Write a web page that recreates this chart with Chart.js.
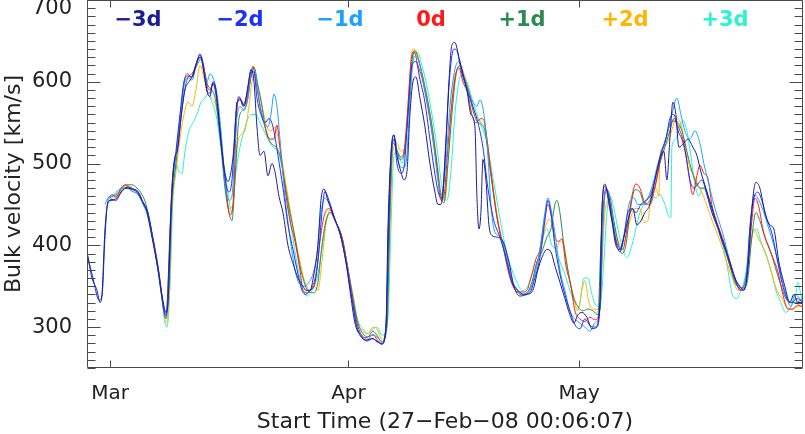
<!DOCTYPE html>
<html><head><meta charset="utf-8">
<script src="https://cdn.jsdelivr.net/npm/chart.js@4.4.0/dist/chart.umd.min.js"></script>
<style>html,body{margin:0;padding:0;background:#fff;overflow:hidden}#wrap{width:805px;height:434px;position:relative}</style>
</head><body><div id="wrap"><canvas id="c" width="805" height="434"></canvas></div>
<script>
// ---- data (x = days since 27-Feb-08 00:06:07, y = km/s) ----
const seriesLabels = ['\u22123d','\u22122d','\u22121d','0d','+1d','+2d','+3d'];
const monthTickDays = [2.996, 33.996, 63.996];
const monthLabels = ['Mar','Apr','May'];
const yTickValues = [300,400,500,600,700];
const xTitle = 'Start Time (27\u2212Feb\u221208 00:06:07)';
const yTitle = 'Bulk velocity [km/s]';

const sM3 = [[0,392],[0.65,360],[1.3,345],[1.69,330],[1.95,340],[2.34,420],[2.73,452],[3.25,456],[3.77,455],[4.42,465],[5.07,470],[5.72,469],[6.5,465],[7.15,455],[7.67,445],[8.45,410],[9.23,370],[9.88,332],[10.27,318],[10.53,330],[10.92,440],[11.31,500],[11.83,520],[12.22,555],[12.74,590],[13.26,600],[13.78,608],[14.3,625],[14.82,630],[15.21,610],[15.6,588],[15.99,582],[16.38,600],[16.77,590],[17.29,540],[17.81,495],[18.33,478],[18.72,490],[19.11,520],[19.5,575],[20.02,578],[20.41,570],[20.93,595],[21.32,615],[21.71,600],[22.1,545],[22.49,510],[23.01,515],[23.53,485],[24.05,500],[24.44,490],[24.96,460],[25.48,440],[26.13,400],[26.78,378],[27.43,360],[28.08,350],[28.47,345],[28.99,345],[29.51,365],[30.03,400],[30.42,455],[30.81,469],[31.33,455],[32.11,435],[32.89,415],[33.67,380],[34.19,345],[34.84,305],[35.49,290],[36.27,284],[37.05,286],[37.7,283],[38.35,279],[38.87,300],[39.13,420],[39.52,510],[39.91,535],[40.3,510],[40.82,490],[41.21,480],[41.6,490],[41.99,560],[42.38,600],[42.77,606],[43.29,580],[43.94,545],[44.59,500],[45.24,465],[45.63,450],[46.02,450],[46.54,500],[47.06,600],[47.45,645],[47.84,648],[48.36,630],[48.88,610],[49.4,590],[49.92,560],[50.44,545],[50.7,460],[50.96,420],[51.22,440],[51.48,505],[51.87,480],[52.26,425],[52.65,412],[53.3,410],[54.08,405],[54.86,380],[55.51,350],[56.29,338],[57.2,340],[57.98,345],[58.63,370],[59.15,385],[59.8,395],[60.32,392],[60.84,375],[61.49,355],[62.14,335],[62.79,315],[63.31,305],[63.83,315],[64.35,318],[65.0,312],[65.65,298],[66.3,300],[66.69,330],[66.95,440],[67.34,475],[67.73,460],[68.25,430],[68.77,400],[69.29,395],[69.81,410],[70.46,435],[70.98,445],[71.5,425],[72.02,430],[72.54,440],[73.19,450],[73.84,480],[74.49,505],[75.01,515],[75.4,480],[75.79,530],[76.18,575],[76.57,560],[76.96,520],[77.61,525],[78.13,530],[78.78,520],[79.3,510],[79.82,490],[80.47,470],[81.12,450],[81.77,430],[82.42,412],[82.94,398],[83.59,380],[84.24,360],[84.89,350],[85.41,345],[85.93,370],[86.45,445],[86.97,477],[87.49,470],[88.14,440],[88.79,425],[89.31,420],[89.96,380],[90.74,350],[91.39,330],[91.91,340],[92.43,330],[93.08,330]];

const sM2 = [[0,390],[0.78,360],[1.56,333],[1.95,338],[2.34,410],[2.73,454],[3.25,455],[3.9,458],[4.55,466],[5.2,471],[5.85,469],[6.63,466],[7.28,452],[7.93,440],[8.58,408],[9.36,365],[10.01,320],[10.27,314],[10.66,380],[11.05,470],[11.57,515],[12.09,560],[12.61,600],[13.13,607],[13.65,606],[14.17,620],[14.69,634],[15.21,615],[15.6,590],[15.99,586],[16.38,598],[16.9,575],[17.55,515],[18.07,475],[18.46,465],[18.85,480],[19.37,560],[19.76,582],[20.28,572],[20.8,585],[21.32,612],[21.71,612],[22.1,580],[22.62,560],[23.14,550],[23.66,555],[24.18,545],[24.83,510],[25.48,470],[26.13,425],[26.78,395],[27.43,365],[27.95,345],[28.47,340],[28.99,345],[29.51,350],[30.03,380],[30.55,440],[30.94,466],[31.46,455],[32.24,432],[33.02,410],[33.8,372],[34.45,335],[35.1,300],[35.75,288],[36.4,283],[37.18,286],[37.7,282],[38.35,280],[38.87,298],[39.26,430],[39.52,510],[39.91,535],[40.3,500],[40.82,488],[41.21,495],[41.73,560],[42.25,620],[42.77,625],[43.29,603],[43.94,575],[44.59,530],[45.24,487],[45.76,462],[46.15,458],[46.67,530],[47.19,610],[47.71,640],[48.1,638],[48.62,615],[49.14,598],[49.79,580],[50.31,566],[50.83,550],[51.48,520],[52.13,470],[52.91,430],[53.69,410],[54.47,385],[55.25,355],[56.03,345],[56.81,340],[57.59,342],[58.24,360],[58.89,385],[59.54,430],[59.93,455],[60.32,440],[60.84,400],[61.49,365],[62.14,340],[62.79,320],[63.44,303],[64.09,298],[64.74,310],[65.39,302],[66.04,300],[66.69,325],[66.95,440],[67.34,472],[67.73,465],[68.25,435],[68.77,405],[69.29,392],[69.81,410],[70.33,440],[70.85,445],[71.37,440],[72.02,450],[72.67,455],[73.32,462],[73.97,485],[74.62,512],[75.27,530],[75.79,555],[76.31,560],[76.83,540],[77.35,530],[77.87,510],[78.39,480],[78.91,470],[79.43,475],[79.95,480],[80.6,462],[81.25,440],[81.9,425],[82.55,405],[83.2,390],[83.85,370],[84.5,352],[85.15,345],[85.67,352],[86.19,420],[86.71,458],[87.23,465],[87.75,455],[88.4,432],[89.05,415],[89.7,385],[90.35,355],[91.0,335],[91.65,330],[92.3,335],[93.08,330]];

const sM1 = [[2.34,450],[2.73,458],[3.25,460],[3.9,466],[4.55,470],[5.2,470],[5.85,466],[6.63,462],[7.28,450],[7.93,435],[8.58,405],[9.36,365],[10.01,318],[10.27,312],[10.66,360],[11.05,460],[11.57,510],[12.09,555],[12.61,595],[13.13,605],[13.65,602],[14.17,618],[14.69,631],[15.21,613],[15.6,600],[15.99,610],[16.38,605],[16.9,585],[17.42,540],[17.94,480],[18.46,455],[18.85,460],[19.37,545],[19.89,570],[20.41,565],[20.93,580],[21.45,615],[21.84,612],[22.36,580],[22.88,555],[23.53,545],[23.92,560],[24.31,585],[24.7,570],[25.09,530],[25.74,460],[26.39,410],[27.04,370],[27.69,352],[28.34,350],[28.86,355],[29.38,365],[29.9,390],[30.42,440],[30.94,458],[31.59,448],[32.37,428],[33.15,405],[33.93,368],[34.45,335],[35.1,300],[35.75,290],[36.4,285],[37.18,290],[37.83,287],[38.35,282],[38.87,300],[39.26,450],[39.65,520],[40.04,530],[40.56,500],[41.08,495],[41.47,500],[41.99,575],[42.38,625],[42.77,632],[43.29,620],[43.81,596],[44.46,565],[45.11,520],[45.63,480],[46.15,462],[46.67,500],[47.19,570],[47.84,615],[48.36,625],[48.88,610],[49.53,590],[50.18,575],[50.7,570],[51.09,578],[51.61,560],[52.13,510],[52.52,450],[52.91,420],[53.69,410],[54.47,390],[55.25,358],[56.03,345],[56.81,340],[57.59,345],[58.24,365],[58.89,395],[59.54,440],[59.93,458],[60.32,445],[60.84,415],[61.49,370],[62.14,345],[62.79,320],[63.44,310],[64.09,305],[64.74,300],[65.39,295],[66.04,305],[66.69,320],[67.08,420],[67.47,468],[67.86,460],[68.38,430],[68.9,400],[69.42,398],[69.94,420],[70.46,450],[71.11,458],[71.63,450],[72.28,450],[72.93,458],[73.58,475],[74.23,500],[74.88,520],[75.53,540],[76.05,560],[76.7,580],[77.22,560],[77.74,540],[78.39,530],[79.04,540],[79.69,525],[80.21,500],[80.86,475],[81.51,450],[82.16,430],[82.81,410],[83.46,385],[84.11,365],[84.63,352],[85.28,348],[85.8,372],[86.32,435],[86.84,462],[87.36,455],[88.01,440],[88.66,420],[89.31,400],[90.09,370],[90.87,340],[91.52,325],[92.04,340],[92.69,335],[93.08,330]];

const s0 = [[2.73,458],[3.25,462],[3.77,459],[4.42,470],[4.94,474],[5.59,471],[6.24,468],[6.89,462],[7.41,448],[7.8,443],[8.45,415],[9.23,375],[9.88,330],[10.14,317],[10.4,320],[10.79,420],[11.18,490],[11.7,515],[12.22,565],[12.74,605],[13.13,610],[13.52,605],[14.04,618],[14.69,633],[15.21,618],[15.6,595],[15.99,590],[16.38,598],[16.9,580],[17.55,520],[18.07,470],[18.59,437],[18.98,450],[19.5,565],[19.89,580],[20.28,570],[20.67,575],[21.19,600],[21.58,619],[21.97,600],[22.49,570],[23.14,545],[23.79,530],[24.31,530],[24.7,547],[25.09,520],[25.74,470],[26.39,430],[27.04,405],[27.69,370],[28.08,345],[28.6,342],[29.25,348],[29.77,365],[30.29,405],[30.81,435],[31.46,445],[32.24,430],[33.15,410],[33.93,370],[34.45,340],[34.97,310],[35.49,294],[36.14,287],[36.79,289],[37.18,291],[37.7,285],[38.35,280],[38.87,300],[39.26,420],[39.52,500],[39.91,530],[40.3,515],[40.82,508],[41.21,515],[41.73,570],[42.12,625],[42.51,637],[43.03,620],[43.55,605],[44.33,568],[44.98,530],[45.5,495],[46.02,455],[46.41,460],[46.93,520],[47.45,575],[47.97,610],[48.36,617],[48.88,600],[49.53,585],[50.05,560],[50.57,550],[51.22,555],[51.61,553],[52.0,530],[52.65,480],[53.3,435],[54.08,400],[54.73,370],[55.38,350],[56.03,343],[56.68,343],[57.2,345],[57.72,360],[58.37,383],[58.89,395],[59.54,435],[59.93,450],[60.32,438],[60.84,410],[61.36,405],[61.75,408],[62.27,375],[62.92,350],[63.44,320],[64.09,310],[64.74,307],[65.39,312],[66.04,309],[66.69,322],[67.08,430],[67.47,470],[67.86,450],[68.38,425],[69.03,400],[69.68,395],[70.2,420],[70.85,460],[71.37,475],[71.89,470],[72.54,452],[73.19,450],[73.84,470],[74.62,508],[75.27,530],[75.92,550],[76.44,552],[76.96,543],[77.61,525],[78.13,495],[78.78,462],[79.3,485],[79.69,498],[80.21,488],[80.73,482],[81.25,450],[81.77,432],[82.29,418],[82.94,400],[83.59,375],[84.24,360],[84.89,345],[85.41,350],[85.93,375],[86.45,430],[86.84,458],[87.36,447],[87.88,420],[88.53,400],[89.18,385],[89.83,368],[90.48,340],[91.13,322],[91.78,322],[92.43,327],[93.08,325]];

const sP1 = [[2.6,455],[3.25,460],[3.9,462],[4.55,470],[5.2,474],[5.85,474],[6.5,470],[7.15,462],[7.67,450],[8.32,420],[9.1,378],[9.75,335],[10.27,310],[10.66,350],[11.05,450],[11.57,500],[12.09,545],[12.61,585],[13.13,605],[13.65,610],[14.3,620],[14.82,628],[15.34,610],[15.73,595],[16.25,590],[16.77,575],[17.42,520],[17.94,470],[18.46,440],[18.85,430],[19.24,480],[19.76,555],[20.28,565],[20.8,575],[21.32,605],[21.71,618],[22.23,595],[22.75,570],[23.27,540],[23.92,525],[24.57,520],[25.09,510],[25.74,475],[26.39,440],[27.04,410],[27.69,375],[28.34,352],[28.86,343],[29.51,342],[30.03,355],[30.55,400],[31.07,430],[31.59,440],[32.37,428],[33.15,410],[33.93,372],[34.58,335],[35.23,305],[35.88,292],[36.53,288],[37.18,295],[37.7,290],[38.35,282],[39.0,300],[39.39,440],[39.78,525],[40.17,520],[40.69,505],[41.21,510],[41.73,560],[42.25,625],[42.64,638],[43.16,625],[43.68,605],[44.33,575],[44.98,538],[45.5,500],[46.02,460],[46.41,452],[46.93,500],[47.45,560],[47.97,608],[48.49,620],[49.01,605],[49.66,588],[50.18,565],[50.7,552],[51.22,548],[51.74,540],[52.39,495],[53.04,450],[53.69,415],[54.47,385],[55.12,360],[55.77,348],[56.42,340],[57.2,342],[57.85,355],[58.5,380],[59.15,392],[59.8,410],[60.32,420],[60.84,450],[61.1,455],[61.49,440],[62.01,400],[62.53,370],[63.18,340],[63.83,325],[64.48,320],[65.13,322],[65.78,320],[66.43,315],[66.82,400],[67.21,455],[67.6,468],[67.99,460],[68.51,430],[69.03,405],[69.55,390],[70.07,400],[70.59,440],[71.24,468],[71.89,465],[72.54,450],[73.19,455],[73.84,472],[74.49,500],[75.14,520],[75.79,540],[76.31,555],[76.83,550],[77.35,540],[77.87,520],[78.39,500],[79.04,480],[79.69,470],[80.34,470],[80.99,450],[81.64,430],[82.29,415],[82.94,395],[83.59,375],[84.24,355],[84.89,348],[85.41,348],[85.93,360],[86.45,410],[86.97,440],[87.49,430],[88.14,410],[88.79,395],[89.44,375],[90.09,355],[90.87,335],[91.52,330],[92.17,330],[93.08,335]];

const sP2 = [[2.73,450],[3.25,455],[3.9,460],[4.55,468],[5.2,472],[5.85,470],[6.5,465],[7.15,455],[7.67,445],[8.32,420],[9.1,380],[9.75,335],[10.27,305],[10.66,330],[11.05,440],[11.57,490],[12.09,530],[12.61,560],[13.13,575],[13.65,570],[14.17,590],[14.69,620],[15.21,605],[15.73,585],[16.25,580],[16.77,570],[17.42,530],[17.94,480],[18.46,445],[18.98,450],[19.5,520],[20.02,535],[20.54,540],[21.06,570],[21.45,600],[21.84,610],[22.36,590],[22.88,565],[23.4,545],[23.92,540],[24.44,545],[24.96,525],[25.61,490],[26.39,445],[27.04,410],[27.69,380],[28.34,355],[28.99,345],[29.51,350],[30.03,345],[30.55,380],[31.07,425],[31.59,443],[32.37,428],[33.15,408],[33.93,372],[34.58,338],[35.23,305],[35.88,295],[36.53,292],[37.18,300],[37.7,298],[38.35,285],[39.0,305],[39.39,420],[39.78,515],[40.3,525],[40.82,515],[41.34,520],[41.86,590],[42.38,640],[42.77,638],[43.29,622],[43.81,600],[44.46,570],[45.11,530],[45.63,492],[46.15,458],[46.54,455],[47.06,520],[47.58,590],[48.1,615],[48.62,620],[49.14,605],[49.79,585],[50.31,565],[50.83,555],[51.35,550],[51.87,540],[52.39,500],[53.04,455],[53.69,418],[54.47,385],[55.12,360],[55.77,345],[56.42,340],[57.2,342],[57.85,350],[58.37,370],[59.02,395],[59.54,420],[60.06,432],[60.58,420],[60.97,395],[61.49,405],[62.01,400],[62.53,370],[63.18,340],[63.83,320],[64.35,345],[64.74,357],[65.26,330],[65.91,322],[66.69,322],[67.08,400],[67.47,450],[67.86,455],[68.38,430],[68.9,410],[69.42,400],[69.94,405],[70.59,430],[71.24,445],[71.89,445],[72.41,428],[72.93,430],[73.45,470],[73.97,470],[74.36,460],[74.49,510],[75.01,520],[75.66,530],[76.18,545],[76.7,556],[77.22,548],[77.74,525],[78.39,495],[78.91,485],[79.43,475],[80.08,462],[80.73,445],[81.38,428],[82.03,412],[82.68,395],[83.33,375],[83.98,358],[84.63,345],[85.15,348],[85.67,360],[86.19,395],[86.71,420],[87.23,410],[87.75,400],[88.4,385],[89.05,365],[89.7,345],[90.35,335],[91.0,325],[91.65,322],[92.3,325],[93.08,325]];

const sP3 = [[2.99,455],[3.64,462],[4.29,466],[5.07,470],[5.72,468],[6.5,463],[7.15,455],[7.67,443],[8.32,418],[9.1,378],[9.75,335],[10.14,305],[10.4,300],[10.79,350],[11.18,460],[11.57,500],[11.96,490],[12.35,488],[12.74,515],[13.26,540],[13.78,550],[14.3,560],[14.82,575],[15.34,580],[15.73,585],[16.25,575],[16.77,560],[17.29,530],[17.94,490],[18.46,455],[18.85,440],[19.37,490],[19.89,520],[20.41,540],[20.93,555],[21.45,560],[21.97,560],[22.49,550],[23.01,540],[23.53,530],[24.18,520],[24.83,515],[25.48,490],[26.13,450],[26.91,400],[27.43,372],[28.08,345],[28.6,338],[29.25,345],[29.9,360],[30.55,395],[31.07,428],[31.72,440],[32.5,425],[33.28,405],[33.93,370],[34.58,340],[35.23,308],[35.88,298],[36.53,292],[37.18,298],[37.7,300],[38.35,290],[39.13,310],[39.52,420],[39.91,510],[40.43,515],[40.95,500],[41.47,530],[41.99,585],[42.51,635],[43.03,635],[43.55,620],[44.2,595],[44.85,560],[45.5,520],[46.02,480],[46.41,460],[46.8,455],[47.32,490],[47.84,560],[48.36,600],[48.88,610],[49.4,600],[50.05,580],[50.7,560],[51.35,545],[52.0,525],[52.65,490],[53.3,455],[53.95,420],[54.6,390],[55.25,370],[55.9,355],[56.55,345],[57.2,348],[57.85,365],[58.37,375],[58.76,385],[59.28,410],[59.8,420],[60.45,400],[60.97,395],[61.49,380],[62.14,365],[62.79,345],[63.44,330],[63.96,325],[64.61,360],[65.13,360],[65.65,340],[66.17,327],[66.69,325],[67.21,380],[67.6,440],[67.99,460],[68.51,445],[69.03,420],[69.55,400],[70.2,385],[70.85,400],[71.37,420],[71.89,440],[72.41,450],[72.93,458],[73.45,460],[73.97,458],[74.49,462],[75.14,450],[75.66,435],[75.92,434],[76.05,520],[76.57,530],[77.09,545],[77.48,553],[78.0,540],[78.52,510],[79.04,475],[79.56,460],[80.08,470],[80.73,460],[81.38,440],[82.03,420],[82.68,400],[83.33,370],[83.98,338],[84.5,335],[85.02,345],[85.54,360],[86.06,390],[86.58,415],[87.1,420],[87.62,405],[88.27,390],[88.92,370],[89.57,345],[90.22,330],[90.87,318],[91.52,325],[92.17,340],[92.43,355],[92.82,340],[93.08,330]];

const seriesData = [sM3, sM2, sM1, s0, sP1, sP2, sP3];
const seriesColors = ['#1c1c96','#1a30ff','#1ea0ff','#ff1a1a','#2a8a50','#ffb400','#2af2d2'];

const FONT = '"DejaVu Sans", sans-serif';

const framePlugin = {
  id: 'frame',
  afterDraw(chart) {
    const {ctx, chartArea: a, scales: {x, y}} = chart;
    ctx.save();
    ctx.strokeStyle = '#4a4a4a';
    ctx.lineWidth = 1;
    const L = Math.round(a.left) + 0.5, R = Math.round(a.right) - 0.5;
    const T = Math.round(a.top) + 0.5, B = Math.round(a.bottom) - 0.5;
    ctx.beginPath();
    ctx.rect(L, T, R - L, B - T);
    for (let v = y.min; v <= y.max; v += 10) {
      const py = Math.round(y.getPixelForValue(v)) + 0.5;
      const len = (v % 100 === 0) ? 13 : 8;
      ctx.moveTo(L, py); ctx.lineTo(L + len, py);
      ctx.moveTo(R, py); ctx.lineTo(R - len, py);
    }
    monthTickDays.forEach(d => {
      const px = Math.round(x.getPixelForValue(d)) + 0.5;
      ctx.moveTo(px, B); ctx.lineTo(px, B - 7);
      ctx.moveTo(px, T); ctx.lineTo(px, T + 7);
    });
    ctx.stroke();
    ctx.restore();
  }
};

const legendPlugin = {
  id: 'topLegend',
  afterDraw(chart, args, opts) {
    const ctx = chart.ctx;
    ctx.save();
    ctx.font = 'bold 21px ' + FONT;
    ctx.textAlign = 'center';
    ctx.textBaseline = 'middle';
    chart.data.datasets.forEach((ds, i) => {
      ctx.fillStyle = ds.borderColor;
      ctx.fillText(ds.label, opts.centers[i], opts.y);
    });
    ctx.restore();
  }
};

new Chart(document.getElementById('c'), {
  type: 'line',
  data: {
    datasets: seriesData.map((s, i) => ({
      label: seriesLabels[i],
      data: s.map(p => ({x: p[0], y: p[1]})),
      borderColor: seriesColors[i],
      borderWidth: 1,
      pointRadius: 0,
      cubicInterpolationMode: 'monotone',
      fill: false
    }))
  },
  options: {
    responsive: false,
    animation: false,
    devicePixelRatio: 1,
    layout: {padding: {left: 0, right: 2, top: 0, bottom: 0}},
    plugins: {
      legend: {display: false},
      tooltip: {enabled: false},
      topLegend: {centers: [138, 240, 340, 431, 522, 625, 725], y: 21}
    },
    scales: {
      x: {
        type: 'linear', position: 'bottom', min: 0, max: 93.1,
        grid: {display: false}, border: {display: false},
        afterBuildTicks: s => { s.ticks = monthTickDays.map(v => ({value: v})); },
        afterFit: s => { s.height = 66; s.paddingLeft = 0; s.paddingRight = 0; },
        ticks: {
          autoSkip: false, maxRotation: 0, padding: 6, color: '#222',
          font: {family: FONT, size: 20},
          callback: (v, i) => monthLabels[i]
        },
        title: {display: true, text: xTitle, color: '#222', font: {family: FONT, size: 22, lineHeight: 1.1}, padding: {top: 0, bottom: 0}}
      },
      y: {
        type: 'linear', position: 'left', min: 250, max: 700,
        grid: {display: false}, border: {display: false},
        afterBuildTicks: s => { s.ticks = yTickValues.map(v => ({value: v})); },
        afterFit: s => { s.width = 87; s.paddingTop = 0; s.paddingBottom = 0; },
        ticks: {
          padding: 7, color: '#222', font: {family: FONT, size: 21, lineHeight: 0.8},
          callback: v => (v === 700 ? ['', String(v)] : String(v))
        },
        title: {display: true, text: yTitle, color: '#222', font: {family: FONT, size: 22}, padding: {top: 1, bottom: 0}}
      }
    }
  },
  plugins: [framePlugin, legendPlugin]
});
</script></body></html>
